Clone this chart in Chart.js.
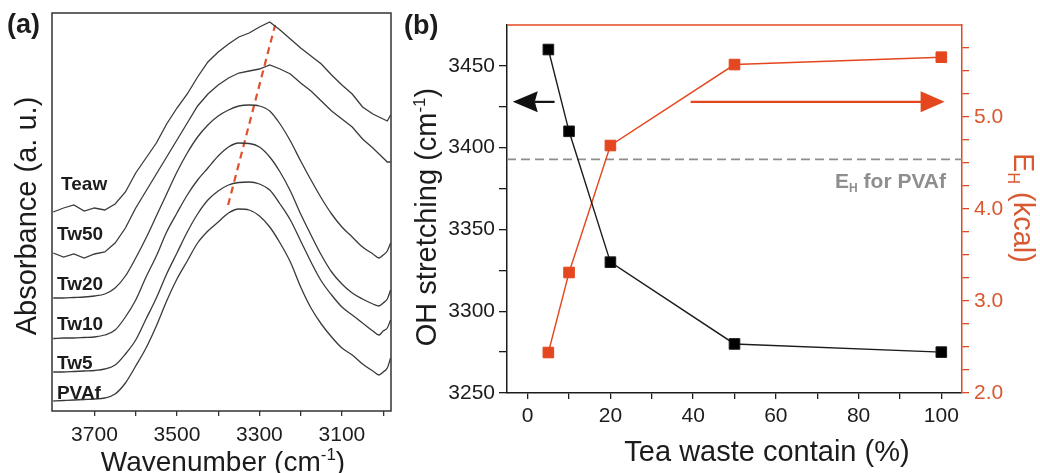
<!DOCTYPE html>
<html>
<head>
<meta charset="utf-8">
<title>FTIR OH band and H-bond energy</title>
<script src="https://cdn.jsdelivr.net/npm/chart.js@4.4.1/dist/chart.umd.min.js"></script>
<style>
  html, body { margin: 0; padding: 0; background: #fff; }
  #wrap { position: relative; width: 1040px; height: 473px; overflow: hidden; }
  canvas { position: absolute; top: 0; }
  #ftir { left: 0; }
  #hbond { left: 400px; }
</style>
</head>
<body>
<div id="wrap">
  <canvas id="ftir" width="400" height="473"></canvas>
  <canvas id="hbond" width="640" height="473"></canvas>
</div>
<script>
// ---- (a) FTIR spectra, OH stretching region (stacked, arbitrary units) ----
const wavenumbers = [3800, 3775, 3750, 3725, 3700, 3675, 3650, 3625, 3600, 3575, 3550, 3525,
  3500, 3475, 3450, 3425, 3400, 3375, 3350, 3325, 3300, 3275, 3250, 3225,
  3200, 3175, 3150, 3125, 3100, 3075, 3050, 3025, 3010, 3000, 2990, 2982];

const teaw = [193, 197, 200, 194, 197, 195, 201, 213, 232, 247, 262, 281,
  297, 311, 328, 343, 353, 361, 368, 372, 378, 383, 375, 366,
  357, 349, 341, 330, 320, 311, 298, 291, 288, 286, 284, 290];
const tw50 = [152, 148, 151, 147, 151, 153, 162, 177, 197, 214, 231, 248,
  265, 282, 299, 311, 320, 327, 332, 334, 336, 340, 336, 331,
  322, 314, 304, 294, 286, 278, 266, 257, 251, 247, 243, 243];
const tw20 = [107, 107, 107.5, 108, 109, 111, 117, 129, 147, 167, 189, 211,
  233, 252, 268, 280, 289, 295, 299, 300, 299, 294, 281, 264,
  244, 225, 207, 191, 178, 168, 158, 151, 147, 150, 154, 162];
const tw10 = [66.5, 67, 67, 67.5, 68, 70, 75, 88, 105, 128, 149, 173,
  192, 210, 225, 237, 249, 258, 262, 261.5, 258, 248, 233, 214,
  191, 170, 150, 133, 121, 112, 106, 101, 99, 102, 106, 115];
const tw5 = [33, 33, 33.5, 34, 34.5, 36, 40, 51, 65, 86, 107, 131,
  152, 173, 191, 205, 214, 220, 222.5, 223, 221, 215, 201, 185,
  164, 143, 124, 110, 98, 90, 82, 74, 70, 74, 77, 85];
const pvaf = [4, 4.5, 5, 5.5, 6, 7, 11, 22, 39, 57, 79, 104,
  126, 144, 162, 174, 183, 192, 196, 195, 189, 178, 162, 143,
  118, 97, 81, 68, 57, 50, 41, 34, 30, 33, 37, 47];

const sampleNames = ['Teaw', 'Tw50', 'Tw20', 'Tw10', 'Tw5', 'PVAf'];
const spectra = [teaw, tw50, tw20, tw10, tw5, pvaf];
// band maximum drifting to lower wavenumber with more tea waste
const peakShift = [[3376, 200], [3262, 380]];

const wavenumberTicks = [3700, 3600, 3500, 3400, 3300, 3200, 3100, 3000];
const wavenumberLabels = [3700, 3500, 3300, 3100];

// ---- (b) OH stretching position and H-bond energy vs tea waste ----
const teaContent = [5, 10, 20, 50, 100];
const ohStretch = [3460, 3410, 3330, 3280, 3275];
const hbondEnergy = [2.44, 3.31, 4.69, 5.57, 5.65];
const pvafEnergy = 4.54;

const contentTicks = [0, 10, 20, 30, 40, 50, 60, 70, 80, 90, 100];
const ohTicks = [3250, 3275, 3300, 3325, 3350, 3375, 3400, 3425, 3450];
const energyTicks = [2, 2.25, 2.5, 2.75, 3, 3.25, 3.5, 3.75, 4, 4.25, 4.5, 4.75, 5, 5.25, 5.5, 5.75];

const FONT = '"Liberation Sans", Arial, Helvetica, sans-serif';
const INK = '#1c1c1c';
const RED = '#e4471f';
const RED_TEXT = '#d9582f';
const GREY = '#8e8e8e';

// text with optional super/subscript pieces, centred on the cap height at (cx, cy)
function drawRich(ctx, parts, cx, cy, size, o = {}) {
  const weight = o.bold ? 'bold ' : '';
  const fontOf = p => weight + Math.round(p.sup ? size * 0.6 : p.sub ? size * 0.55 : size) + 'px ' + FONT;
  const widths = parts.map(p => { ctx.font = fontOf(p); return ctx.measureText(p.t).width; });
  const total = widths.reduce((a, b) => a + b, 0);
  ctx.save();
  ctx.translate(cx, cy);
  ctx.rotate(o.rotate || 0);
  ctx.fillStyle = o.color || INK;
  ctx.textAlign = 'left';
  ctx.textBaseline = 'alphabetic';
  let x = o.align === 'left' ? 0 : o.align === 'right' ? -total : -total / 2;
  parts.forEach((p, i) => {
    ctx.font = fontOf(p);
    const dy = p.sup ? -size * 0.4 : p.sub ? size * 0.2 : 0;
    ctx.fillText(p.t, x, size * 0.36 + dy);
    x += widths[i];
  });
  ctx.restore();
}

const tickFont = { family: FONT, size: 21 };

const ftirDecor = {
  id: 'ftirDecor',
  afterDraw(chart, args, opts) {
    const { ctx, chartArea: a, scales: { x, y } } = chart;
    ctx.save();
    ctx.strokeStyle = '#333';
    ctx.lineWidth = 1.5;
    ctx.strokeRect(a.left, a.top, a.right - a.left, a.bottom - a.top);
    ctx.restore();
    sampleNames.forEach((name, i) => {
      const at = opts.nameAt[i];
      drawRich(ctx, [{ t: name }], x.getPixelForValue(at[0]), y.getPixelForValue(at[1]), 19, { bold: true, align: 'left' });
    });
    drawRich(ctx, [{ t: '(a)' }], 7, 23, 27, { bold: true, align: 'left' });
    drawRich(ctx, [{ t: 'Absorbance (a. u.)' }], 26, 216, 29, { rotate: -Math.PI / 2 });
    drawRich(ctx, [{ t: 'Wavenumber (cm' }, { t: '-1', sup: true }, { t: ')' }], 223, 461, 28);
  }
};

new Chart(document.getElementById('ftir'), {
  type: 'line',
  data: {
    datasets: spectra.map((vals, i) => ({
      label: sampleNames[i],
      data: wavenumbers.map((w, j) => ({ x: w, y: vals[j] })),
      borderColor: '#3a3a3a',
      borderWidth: 1.3,
      pointRadius: 0,
      cubicInterpolationMode: i < 2 ? 'default' : 'monotone',
      tension: i < 2 ? 0 : 0.4
    })).concat([{
      label: 'peak shift',
      data: peakShift.map(p => ({ x: p[0], y: p[1] })),
      borderColor: '#e0502c',
      borderWidth: 2.2,
      borderDash: [7, 5],
      pointRadius: 0
    }])
  },
  options: {
    responsive: false,
    animation: false,
    events: [],
    layout: { padding: { top: 13, right: 9, left: 0, bottom: 0 } },
    plugins: {
      legend: { display: false },
      tooltip: { enabled: false },
      ftirDecor: { nameAt: [[3781, 222], [3791, 172], [3791, 122], [3791, 82], [3791, 43], [3791, 13]] }
    },
    scales: {
      x: {
        type: 'linear', reverse: true, min: 2981, max: 3803,
        afterBuildTicks: s => { s.ticks = wavenumberTicks.map(v => ({ value: v })); },
        afterFit: s => { s.height = 62; },
        grid: { drawOnChartArea: false, tickLength: 5, color: '#333', lineWidth: 1.3 },
        border: { display: false },
        ticks: {
          autoSkip: false, maxRotation: 0, padding: 7, color: INK, font: tickFont,
          callback: v => (wavenumberLabels.includes(v) ? String(v) : '')
        }
      },
      y: {
        min: -6, max: 392,
        afterFit: s => { s.width = 52; },
        ticks: { display: false },
        grid: { display: false },
        border: { display: false }
      }
    }
  },
  plugins: [ftirDecor]
});

const hbondDecor = {
  id: 'hbondDecor',
  afterDraw(chart, args, opts) {
    const { ctx, chartArea: a, scales: { x, y } } = chart;
    ctx.save();
    // top edge belongs to the energy axis
    ctx.strokeStyle = RED;
    ctx.lineWidth = 1.5;
    ctx.beginPath();
    ctx.moveTo(a.left, a.top);
    ctx.lineTo(a.right, a.top);
    ctx.stroke();
    // arrows pointing each series to its axis
    opts.arrows.forEach(ar => {
      const py = y.getPixelForValue(ar.y);
      const x0 = x.getPixelForValue(ar.from);
      const x1 = x.getPixelForValue(ar.to);
      const dir = Math.sign(x1 - x0);
      const hx = x1 - dir * ar.head;
      ctx.strokeStyle = ar.color;
      ctx.fillStyle = ar.color;
      ctx.lineWidth = 2.2;
      ctx.beginPath();
      ctx.moveTo(x0, py);
      ctx.lineTo(hx + dir * 3, py);
      ctx.stroke();
      ctx.beginPath();
      ctx.moveTo(x1, py);
      ctx.lineTo(hx, py - ar.half);
      ctx.lineTo(hx + dir * ar.notch, py);
      ctx.lineTo(hx, py + ar.half);
      ctx.closePath();
      ctx.fill();
    });
    ctx.restore();
    drawRich(ctx, [{ t: 'E' }, { t: 'H', sub: true }, { t: ' for PVAf' }], 546, 180, 21, { bold: true, color: GREY, align: 'right' });
    drawRich(ctx, [{ t: '(b)' }], 4, 24, 27, { bold: true, align: 'left' });
    drawRich(ctx, [{ t: 'OH stretching (cm' }, { t: '-1', sup: true }, { t: ')' }], 26, 217, 29, { rotate: -Math.PI / 2 });
    drawRich(ctx, [{ t: 'Tea waste contain (%)' }], 367, 451, 29);
    drawRich(ctx, [{ t: 'E' }, { t: 'H', sub: true }, { t: ' (kcal)' }], 624, 208, 29, { rotate: Math.PI / 2, color: RED_TEXT });
  }
};

new Chart(document.getElementById('hbond'), {
  type: 'line',
  data: {
    datasets: [
      {
        label: 'OH stretching',
        data: teaContent.map((c, i) => ({ x: c, y: ohStretch[i] })),
        yAxisID: 'y',
        borderColor: INK,
        backgroundColor: '#000',
        borderWidth: 1.4,
        pointStyle: 'rect',
        pointRadius: 7.5,
        pointBorderWidth: 1,
        tension: 0
      },
      {
        label: 'EH',
        data: teaContent.map((c, i) => ({ x: c, y: hbondEnergy[i] })),
        yAxisID: 'y2',
        borderColor: RED,
        backgroundColor: RED,
        borderWidth: 1.4,
        pointStyle: 'rect',
        pointRadius: 7.5,
        pointBorderWidth: 1,
        tension: 0
      },
      {
        label: 'EH for PVAf',
        data: [{ x: -5, y: pvafEnergy }, { x: 105, y: pvafEnergy }],
        yAxisID: 'y2',
        borderColor: GREY,
        borderWidth: 1.8,
        borderDash: [9, 5],
        pointRadius: 0
      }
    ]
  },
  options: {
    responsive: false,
    animation: false,
    events: [],
    layout: { padding: { top: 25, right: 0, left: 0, bottom: 0 } },
    plugins: {
      legend: { display: false },
      tooltip: { enabled: false },
      hbondDecor: {
        arrows: [
          { from: 6.5, to: -3.6, y: 3428, color: '#111', head: 25, half: 10.5, notch: 3 },
          { from: 39.4, to: 100.8, y: 3428, color: RED, head: 24, half: 10.5, notch: 0 }
        ]
      }
    },
    scales: {
      x: {
        type: 'linear', min: -5, max: 105,
        afterBuildTicks: s => { s.ticks = contentTicks.map(v => ({ value: v })); },
        afterFit: s => { s.height = 80; },
        grid: { drawOnChartArea: false, tickLength: 6, color: INK, lineWidth: 1.3 },
        border: { color: INK, width: 1.5 },
        ticks: {
          autoSkip: false, maxRotation: 0, padding: 5, color: INK, font: tickFont,
          callback: v => (v % 20 === 0 ? String(v) : '')
        }
      },
      y: {
        position: 'left', min: 3250, max: 3475,
        afterBuildTicks: s => { s.ticks = ohTicks.map(v => ({ value: v })); },
        afterFit: s => { s.width = 107; },
        grid: { drawOnChartArea: false, tickLength: 8, color: INK, lineWidth: 1.3 },
        border: { color: INK, width: 1.5 },
        ticks: {
          autoSkip: false, padding: 4, color: INK, font: tickFont,
          callback: v => (v % 50 === 0 ? String(v) : '')
        }
      },
      y2: {
        position: 'right', min: 2, max: 6,
        afterBuildTicks: s => { s.ticks = energyTicks.map(v => ({ value: v })); },
        afterFit: s => { s.width = 78; },
        grid: { drawOnChartArea: false, tickLength: 7, color: RED, lineWidth: 1.3 },
        border: { color: RED, width: 1.5 },
        ticks: {
          autoSkip: false, padding: 5, color: RED_TEXT, font: tickFont,
          callback: v => (Number.isInteger(v) ? v.toFixed(1) : '')
        }
      }
    }
  },
  plugins: [hbondDecor]
});
</script>
</body>
</html>
